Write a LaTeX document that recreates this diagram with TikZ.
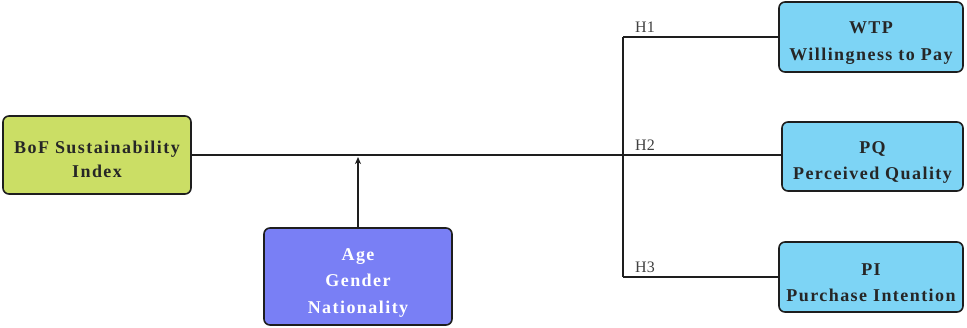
\documentclass[tikz,border=0pt]{standalone}
\usepackage{fontspec}
\setmainfont{Liberation Serif}
\newfontfamily\boxfont[LetterSpace=8]{Liberation Serif}
\usetikzlibrary{positioning,arrows.meta}

\definecolor{bofgreen}{RGB}{203,222,101}
\definecolor{demoblue}{RGB}{121,127,245}
\definecolor{outblue}{RGB}{125,212,245}
\definecolor{edgegray}{RGB}{30,30,30}

\begin{document}
\begin{tikzpicture}[>={Stealth[length=7pt,width=6pt,inset=2pt]}, x=1pt, y=-1pt,
	box/.style={draw=edgegray, line width=1.6pt, rounded corners=6pt, align=center,
		text=black!85, font=\boxfont\bfseries\fontsize{18}{26.5}\selectfont},
	twoline/.style={box, text height=50pt},
	hlabel/.style={anchor=south west, text=black!75, font=\fontsize{16}{18}\selectfont, inner sep=1pt},
	link/.style={line width=1.4pt, draw=edgegray}]
	\useasboundingbox (0,0) rectangle (967,327);

	% Boxes
	\node[box, fill=bofgreen, minimum width=188pt, minimum height=78pt, text height=46pt, font=\boxfont\bfseries\fontsize{18}{24.5}\selectfont] (bof) at (97,155) {BoF Sustainability\\Index};
	\node[box, fill=demoblue, text=white, minimum width=188pt, minimum height=97pt, text height=77pt] (demo) at (358,276.5) {Age\\Gender\\Nationality};
	\node[twoline, fill=outblue, minimum width=184pt, minimum height=70pt] (wtp) at (871,37) {WTP\\Willingness to Pay};
	\node[twoline, fill=outblue, minimum width=181pt, minimum height=69pt] (pq) at (872.5,156.5) {PQ\\Perceived Quality};
	\node[twoline, fill=outblue, minimum width=184pt, minimum height=70pt] (pi) at (871,277) {PI\\Purchase Intention};

	% Main path and branches
	\coordinate (split) at (623,155);
	\draw[link] (bof.east) -- (bof.east -| pq.west);
	\draw[link] (split |- wtp.west) -- (split |- pi.west);
	\draw[link] (split |- wtp.west) -- (wtp.west);
	\draw[link] (split |- pi.west) -- (pi.west);

	% Moderator arrow
	\draw[->, line width=1.4pt, draw=edgegray] (demo.north) -- ([yshift=-2pt]demo.north |- bof.east);

	% Hypothesis labels
	\node[hlabel] (h1) at ([xshift=11pt,yshift=3pt]split |- wtp.west) {H1};
	\node[hlabel] (h2) at ([xshift=11pt,yshift=3pt]split) {H2};
	\node[hlabel] (h3) at ([xshift=11pt,yshift=3pt]split |- pi.west) {H3};
\end{tikzpicture}
\end{document}
